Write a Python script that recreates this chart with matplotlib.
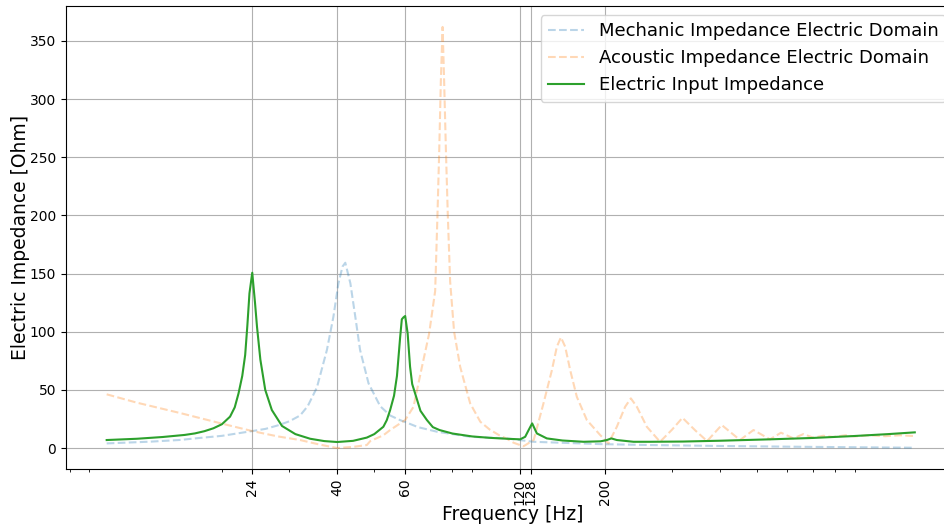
import matplotlib
matplotlib.use("Agg")
import matplotlib.pyplot as plt

# ---- data ----
freq_elec = [10, 12, 14, 16, 17, 18, 19, 20, 21, 21.6, 22.1, 22.6, 23.0, 23.3, 23.6, 24.0,
             24.4, 24.7, 25.2, 25.95, 27.0, 28.7, 31.1, 34, 37, 40, 44, 47.8, 50, 52.8, 53.9,
             55.0, 56.3, 57.3, 58.4, 59.0, 59.6, 60.2, 61.1, 62.0, 62.8, 64.6, 66, 68.6, 71.1,
             74, 80, 90, 100, 111, 120.2, 123.9, 126.5, 129.2, 132.9, 141.1, 155, 176, 195,
             202.5, 208, 215, 237.6, 262.6, 320, 400, 540, 700, 890, 1100, 1290]
z_elec = [6.9, 8.0, 9.5, 11.3, 12.6, 14.5, 17, 20.5, 27, 35, 47, 62, 80, 105, 133, 150.7,
          125, 104, 76, 50, 32.7, 19, 12, 8, 6, 5.2, 6.2, 9.0, 12, 18.3, 24,
          32.7, 45, 62, 95, 110.7, 112.4, 113.5, 98.6, 69.9, 55, 42, 32, 24.1, 18,
          15.5, 12.5, 10, 8.8, 8.0, 7.5, 9.7, 15.5, 21.2, 12.6, 8.3, 6.5, 5.4, 5.8,
          6.9, 8.3, 6.9, 5.4, 5.4, 5.6, 6.3, 7.5, 8.7, 10.3, 12.0, 13.5]

freq_mech = [10, 13, 15.6, 17, 20, 24, 26, 28, 30, 32, 33.5, 35.4, 37.6, 39.1, 40.3, 41.3, 42.0,
             43.3, 44.6, 45.9, 48.3, 51.8, 55, 58.4, 60, 65, 73, 89, 111, 130, 194.5, 262,
             400, 600, 900, 1290]
z_mech = [4.0, 5.5, 7.0, 8.3, 10.5, 14.6, 16.5, 19.5, 23, 28, 36, 52, 84.3, 112.9, 141.6, 156,
          159.3, 141.6, 112.9, 84.3, 55.6, 36, 28, 24, 22.6, 18, 14.0, 9.7, 8.3, 5.4, 3.4, 2.6,
          1.8, 1.2, 0.7, 0.3]

freq_acou = [10, 12, 15.6, 20, 24, 28, 32, 36, 40, 44, 47.8, 48.8, 52.8, 55, 58.4, 60.2, 63.3,
             66.6, 69.5, 72.1, 73.1, 73.9, 74.6, 75.4, 76.1, 76.9, 77.8, 78.9, 80.8, 83.8, 87.3,
             89, 94.6, 100, 106, 111, 115.5, 122.6, 130.4, 138.3, 145.5, 149.9, 153.6, 157.6,
             162.4, 169, 179.5, 194.5, 204.4, 215, 226, 233.9, 242.5, 257.5, 278.8, 300, 319,
             345, 370, 404, 451, 489, 540, 577, 622, 660, 701, 744, 790, 850, 900, 980, 1080,
             1180, 1290]
z_acou = [46.2, 39, 30, 21, 14.6, 10, 6.9, 3, 0, 1, 2.6, 6, 11, 15.5, 21.2, 24.1, 35.5,
          69.9, 98, 135, 200, 257, 315, 362, 315, 257, 200, 143, 100, 69.9, 48.4,
          38.4, 22.6, 16, 11, 8, 4.6, 1.5, 6.9, 38.4, 67, 87.1, 95.2, 87.1,
          67, 44.1, 24.1, 11.2, 4.0, 18.3, 35.5, 42.7, 35.5, 18.3, 5.4, 16, 26,
          15, 6, 19.8, 6.9, 15.5, 7.5, 13.2, 8.3, 12, 8.9, 10.6, 9.5, 11, 10, 11, 10.2,
          11, 10.3]

xtick_vals = [24, 40, 60, 120, 128, 200]
xtick_labels = ["24", "40", "60", "120", "128", "200"]

fig = plt.figure(figsize=(9.44, 5.26), dpi=100)
ax = fig.add_axes([66/944, 57/526, (959-66)/944, 463/526])

ax.plot(freq_mech, z_mech, "--", color="C0", alpha=0.3, label="Mechanic Impedance Electric Domain")
ax.plot(freq_acou, z_acou, "--", color="C1", alpha=0.3, label="Acoustic Impedance Electric Domain")
ax.plot(freq_elec, z_elec, "-", color="C2", label="Electric Input Impedance")

ax.set_xscale("log")
ax.set_xlim(7.83, 1683)
ax.set_ylim(-18, 380)
ax.set_xticks(xtick_vals)
ax.set_xticklabels(xtick_labels, rotation=90)
ax.grid(True, which="major")
ax.set_xlabel("Frequency [Hz]", fontsize=13.5, labelpad=0)
ax.set_ylabel("Electric Impedance [Ohm]", fontsize=13.5, labelpad=0)
ax.legend(loc="upper right", bbox_to_anchor=(0.995, 1.0), fontsize=13)

fig.savefig("out.png", dpi=100)
